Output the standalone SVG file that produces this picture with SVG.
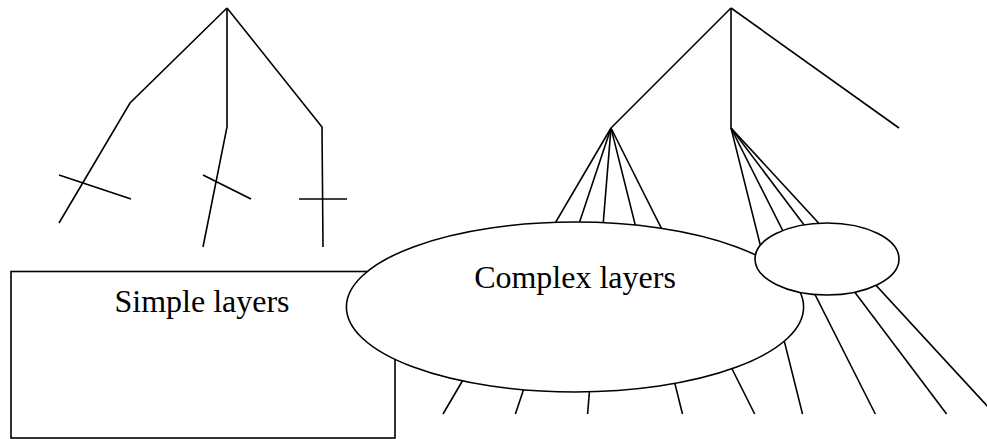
<svg xmlns="http://www.w3.org/2000/svg" width="987" height="439" viewBox="0 0 987 439">
  <style>
    .ln { stroke: #000; stroke-width: 1.6; fill: none; stroke-linecap: butt; stroke-linejoin: miter; }
    .shape { stroke: #000; stroke-width: 1.6; fill: #fff; }
    .lbl { font-family: "Liberation Serif", "Times New Roman", serif; font-size: 32px; fill: #000; text-anchor: middle; }
  </style>
  <rect width="987" height="439" fill="#fff"/>

  <!-- Connectors: simple tree on the left, fanned tree on the right -->
  <g id="connectors">
    <!-- simple tree -->
    <polyline class="ln" points="227,8 130,103 59,223"/>
    <polyline class="ln" points="227,8 227,127 203,247"/>
    <polyline class="ln" points="227,8 322,127 323,247"/>
    <line class="ln" x1="59" y1="175" x2="131" y2="199"/>
    <line class="ln" x1="203" y1="175" x2="251" y2="199"/>
    <line class="ln" x1="299" y1="199" x2="347" y2="199"/>

    <!-- complex tree -->
    <line class="ln" x1="731" y1="8" x2="611" y2="128"/>
    <line class="ln" x1="731" y1="8" x2="731" y2="128"/>
    <line class="ln" x1="731" y1="8" x2="899" y2="128"/>

    <!-- fan through the large ellipse -->
    <line class="ln" x1="611" y1="128" x2="443" y2="414"/>
    <line class="ln" x1="611" y1="128" x2="515.4" y2="414"/>
    <line class="ln" x1="611" y1="128" x2="587.6" y2="414"/>
    <line class="ln" x1="611" y1="128" x2="682.5" y2="414"/>
    <line class="ln" x1="611" y1="128" x2="754.7" y2="414"/>

    <!-- fan through the small ellipse -->
    <line class="ln" x1="731" y1="128" x2="802.5" y2="414"/>
    <line class="ln" x1="731" y1="128" x2="875.3" y2="414"/>
    <line class="ln" x1="731" y1="128" x2="946.6" y2="414"/>
    <line class="ln" x1="731" y1="128" x2="994.6" y2="414"/>
  </g>

  <g id="simple-layers">
    <rect class="shape" x="11" y="271.5" width="384" height="166.5"/>
    <text class="lbl" x="202" y="312">Simple layers</text>
  </g>

  <g id="complex-layers">
    <ellipse class="shape" cx="575" cy="307" rx="228.6" ry="85"/>
    <text class="lbl" x="575" y="288">Complex layers</text>
  </g>

  <g id="sub-layer">
    <ellipse class="shape" cx="827" cy="259" rx="72" ry="36"/>
  </g>
</svg>
